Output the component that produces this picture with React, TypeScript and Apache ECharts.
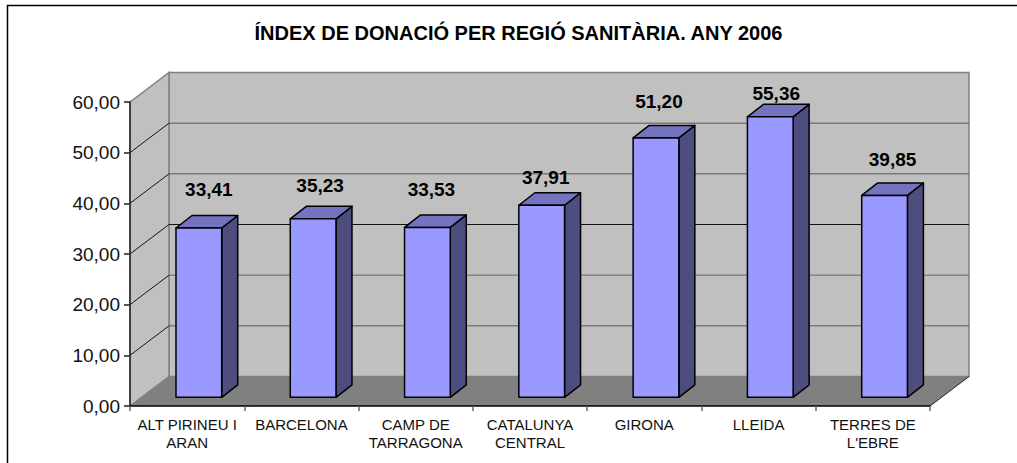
import React, { useEffect, useRef } from "react";
import * as echarts from "echarts";

const categories = [
  "ALT PIRINEU I\nARAN",
  "BARCELONA",
  "CAMP DE\nTARRAGONA",
  "CATALUNYA\nCENTRAL",
  "GIRONA",
  "LLEIDA",
  "TERRES DE\nL'EBRE",
];
const values = [33.41, 35.23, 33.53, 37.91, 51.2, 55.36, 39.85];
const yTicks = [0, 10, 20, 30, 40, 50, 60];
const gridColors = ["#808080", "#5a5a5a", "#666666", "#111111", "#555555", "#555555", "#808080"];
const title = "ÍNDEX DE DONACIÓ PER REGIÓ SANITÀRIA. ANY 2006";

// hand-placed label offsets from the centre of each bar's front top edge (px)
const labelShiftX = [10, 7, 4, 4, 3, 6, 8];
const labelShiftY = [-39, -33, -38, -28, -36, -23, -36];

const DEPTH_X = 39;
const DEPTH_Y = 29.5;
const BAR_IN_X = 11.7;
const BAR_IN_Y = 8.7;
const BAR_SIDE_X = 16;
const BAR_SIDE_Y = 12.5;
const WALL = "#c0c0c0";
const FLOOR = "#808080";
const EDGE = "#808080";

const fmt = (v: number) => v.toFixed(2).replace(".", ",");

function renderWall(params: any, api: any) {
  const cs = params.coordSys;
  const v = api.value(1);
  const y = api.coord([0, v])[1];
  const l = cs.x;
  const r = cs.x + cs.width;
  const b = cs.y + cs.height;
  const t = cs.y;
  const children: any[] = [];
  if (params.dataIndex === 0) {
    children.push(
      {
        type: "polygon",
        shape: { points: [[l + DEPTH_X, t - DEPTH_Y], [r + DEPTH_X, t - DEPTH_Y], [r + DEPTH_X, b - DEPTH_Y], [l + DEPTH_X, b - DEPTH_Y]] },
        style: { fill: WALL, stroke: EDGE, lineWidth: 1.5 },
      },
      {
        type: "polygon",
        shape: { points: [[l, t], [l + DEPTH_X, t - DEPTH_Y], [l + DEPTH_X, b - DEPTH_Y], [l, b]] },
        style: { fill: WALL, stroke: EDGE, lineWidth: 1.5 },
      },
      {
        type: "polygon",
        shape: { points: [[l, b], [l + DEPTH_X, b - DEPTH_Y], [r + DEPTH_X, b - DEPTH_Y], [r, b]] },
        style: { fill: FLOOR, stroke: "none" },
      },
      {
        type: "line",
        shape: { x1: r, y1: b, x2: r + DEPTH_X, y2: b - DEPTH_Y },
        style: { stroke: "#222222", lineWidth: 1 },
      }
    );
  }
  if (v > 0 && v < 60) {
    children.push(
      {
        type: "line",
        shape: { x1: l, y1: y, x2: l + DEPTH_X, y2: y - DEPTH_Y },
        style: { stroke: "#111111", lineWidth: 1 },
      },
      {
        type: "line",
        shape: { x1: l + DEPTH_X, y1: y - DEPTH_Y, x2: r + DEPTH_X, y2: y - DEPTH_Y },
        style: { stroke: gridColors[params.dataIndex], lineWidth: 1 },
      }
    );
  }
  return { type: "group", children };
}

function renderBar(params: any, api: any) {
  const i = api.value(0);
  const v = api.value(1);
  const [cx, top0] = api.coord([i, v]);
  const w = api.size([1, 0])[0] * 0.4;
  const bottom0 = api.coord([i, 0])[1];
  const x0 = cx + BAR_IN_X - w / 2;
  const x1 = x0 + w;
  const yT = top0 - BAR_IN_Y;
  const yB = bottom0 - BAR_IN_Y;
  const line = { stroke: "#000000", lineWidth: 1.5, lineJoin: "round" };
  return {
    type: "group",
    children: [
      {
        type: "polygon",
        shape: { points: [[x1, yT], [x1 + BAR_SIDE_X, yT - BAR_SIDE_Y], [x1 + BAR_SIDE_X, yB - BAR_SIDE_Y], [x1, yB]] },
        style: { fill: "#4d4d80", ...line },
      },
      {
        type: "polygon",
        shape: { points: [[x0, yT], [x0 + BAR_SIDE_X, yT - BAR_SIDE_Y], [x1 + BAR_SIDE_X, yT - BAR_SIDE_Y], [x1, yT]] },
        style: { fill: "#7373bf", ...line },
      },
      {
        type: "polygon",
        shape: { points: [[x0, yT], [x1, yT], [x1, yB], [x0, yB]] },
        style: { fill: "#9999ff", ...line },
      },
      {
        type: "text",
        style: {
          x: (x0 + x1) / 2 + labelShiftX[i],
          y: yT + labelShiftY[i],
          text: fmt(v),
          fill: "#000000",
          font: 'bold 19px "Liberation Sans", Arial, sans-serif',
          align: "center",
          verticalAlign: "middle",
        },
      },
    ],
  };
}

export default function App() {
  const ref = useRef<HTMLDivElement>(null);
  useEffect(() => {
    const chart = echarts.init(ref.current!, null, { renderer: "svg" });
    chart.setOption({
      animation: false,
      backgroundColor: "#ffffff",
      textStyle: { fontFamily: '"Liberation Sans", Arial, sans-serif' },
      title: {
        text: title,
        left: 513.5,
        top: 18,
        textAlign: "center",
        textStyle: { fontSize: 20, fontWeight: "bold", color: "#000000", fontFamily: '"Liberation Sans", Arial, sans-serif' },
      },
      grid: { left: 130, right: 87, top: 102, bottom: 57, containLabel: false },
      xAxis: {
        type: "category",
        data: categories,
        z: 5,
        axisLine: { lineStyle: { color: "#000000", width: 1.5 } },
        axisTick: { show: true, length: 5, lineStyle: { color: "#666666", width: 1.5 } },
        axisLabel: { interval: 0, fontSize: 15, lineHeight: 18.5, color: "#111111", margin: 9, fontFamily: '"Liberation Sans", Arial, sans-serif' },
      },
      yAxis: {
        type: "value",
        min: 0,
        max: 60,
        interval: 10,
        z: 5,
        splitLine: { show: false },
        axisLine: { show: true, lineStyle: { color: "#222222", width: 1.5 } },
        axisTick: { show: true, length: 6, lineStyle: { color: "#222222", width: 1.5 } },
        axisLabel: { fontSize: 19, color: "#111111", margin: 10, formatter: fmt, fontFamily: '"Liberation Sans", Arial, sans-serif' },
      },
      series: [
        {
          type: "custom",
          z: 1,
          renderItem: renderWall,
          data: yTicks.map((t) => [0, t]),
          encode: { x: 0, y: 1 },
          silent: true,
        },
        {
          type: "custom",
          z: 2,
          renderItem: renderBar,
          data: values.map((v, i) => [i, v]),
          encode: { x: 0, y: 1 },
          silent: true,
        },
      ],
      graphic: [
        {
          type: "polyline",
          z: 10,
          shape: { points: [[7.5, 463], [7.5, 5.5], [1017, 5.5]] },
          style: { stroke: "#000000", fill: "none", lineWidth: 1.5 },
        },
      ],
    });
    return () => chart.dispose();
  }, []);
  return <div ref={ref} style={{ position: "fixed", left: 0, top: 0, width: 1017, height: 463 }} />;
}
